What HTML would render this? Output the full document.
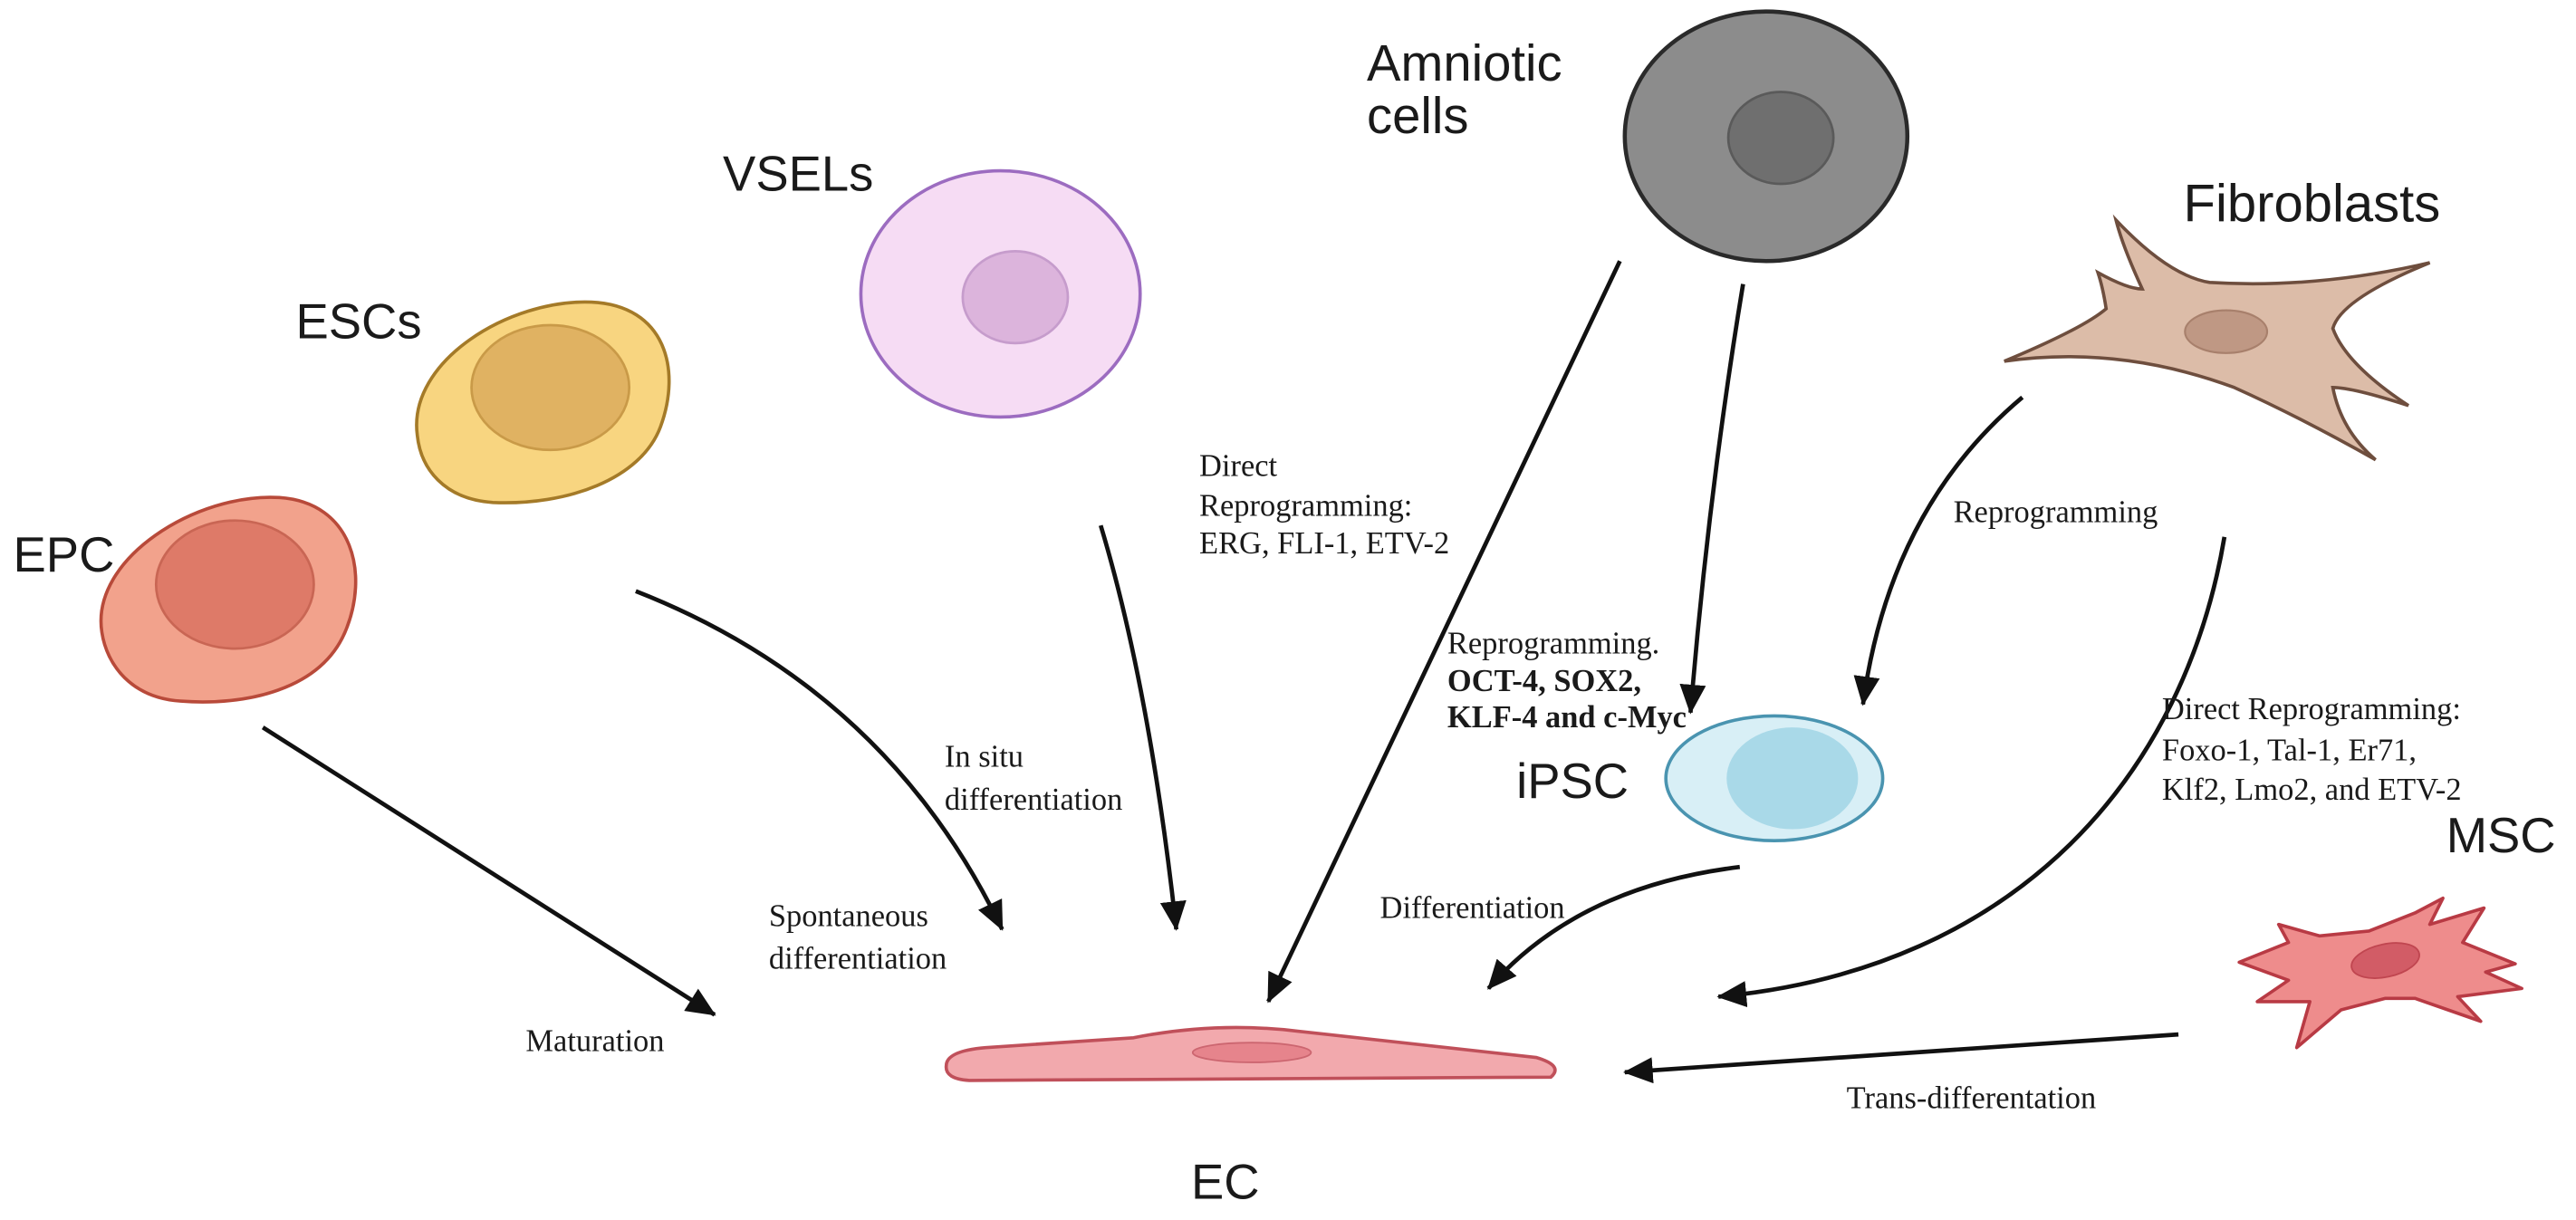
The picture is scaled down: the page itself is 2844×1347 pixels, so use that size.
<!DOCTYPE html>
<html><head><meta charset="utf-8"><style>
html,body{margin:0;padding:0;background:#fff;}
svg{display:block;}
.lab{font-family:"Liberation Sans",Arial,sans-serif;fill:#1a1a1a;}
.ser{font-family:"Liberation Serif","Times New Roman",serif;fill:#1a1a1a;font-size:19px;}
.ln{fill:none;stroke:#111;stroke-width:2.6;}
</style></head><body>
<svg width="2844" height="1347" viewBox="0 0 1568 743" preserveAspectRatio="none" xmlns="http://www.w3.org/2000/svg">
<defs>
<marker id="ah" markerUnits="userSpaceOnUse" markerWidth="20" markerHeight="16" refX="17" refY="8" orient="auto">
<path d="M0,0 L18,8 L0,16 Z" fill="#111"/>
</marker>
</defs>

<!-- Labels -->
<text class="lab" x="8" y="348" font-size="30">EPC</text>
<text class="lab" x="180" y="206" font-size="30">ESCs</text>
<text class="lab" x="440" y="116" font-size="30">VSELs</text>
<text class="lab" x="832" y="49" font-size="31">Amniotic</text>
<text class="lab" x="832" y="81" font-size="31">cells</text>
<text class="lab" x="1329" y="135" font-size="32">Fibroblasts</text>
<text class="lab" x="923" y="486" font-size="30">iPSC</text>
<text class="lab" x="1489" y="519" font-size="30">MSC</text>
<text class="lab" x="725" y="730" font-size="30">EC</text>

<!-- EPC -->
<path d="M62,385 C55,340 120,300 170,303 C215,306 225,350 210,385 C195,420 150,430 110,427 C80,425 65,405 62,385 Z" fill="#f2a28c" stroke="#b84a3a" stroke-width="2"/>
<ellipse cx="143" cy="356" rx="48" ry="39" fill="#de7a68" stroke="#c96654" stroke-width="1.5"/>
<!-- ESC -->
<path d="M254,265 C248,220 310,182 360,184 C405,186 415,225 402,260 C390,292 345,308 300,306 C270,304 256,285 254,265 Z" fill="#f8d580" stroke="#a47a28" stroke-width="2"/>
<ellipse cx="335" cy="236" rx="48" ry="38" fill="#e0b262" stroke="#c99a48" stroke-width="1.5"/>
<!-- VSEL -->
<ellipse cx="609" cy="179" rx="85" ry="75" fill="#f6dcf4" stroke="#9c6cc0" stroke-width="2"/>
<ellipse cx="618" cy="181" rx="32" ry="28" fill="#dcb4dc" stroke="#c69ccc" stroke-width="1.5"/>
<!-- Amniotic -->
<ellipse cx="1075" cy="83" rx="86" ry="76" fill="#8c8c8c" stroke="#2a2a2a" stroke-width="2.5"/>
<ellipse cx="1084" cy="84" rx="32" ry="28" fill="#6f6f6f" stroke="#5a5a5a" stroke-width="1.5"/>
<!-- Fibroblast -->
<path d="M1220,220 Q1268,200 1282,188 Q1280,175 1277,166 Q1295,176 1304,176 Q1292,150 1288,134 Q1320,168 1345,172 Q1410,176 1479,160 Q1425,182 1420,200 Q1428,222 1466,247 Q1432,236 1420,236 Q1425,262 1446,280 Q1400,254 1360,236 Q1290,210 1220,220 Z" fill="#dcbca8" stroke="#6e4e3e" stroke-width="2"/>
<ellipse cx="1355" cy="202" rx="25" ry="13" fill="#bf9884" stroke="#a8806c" stroke-width="1.2"/>
<!-- iPSC -->
<ellipse cx="1080" cy="474" rx="66" ry="38" fill="#d8eff6" stroke="#4a94b0" stroke-width="2"/>
<ellipse cx="1091" cy="474" rx="40" ry="31" fill="#a9d9e8"/>
<!-- MSC -->
<path d="M1363,586 L1393,574 L1387,563 L1412,570 L1442,567 L1470,556 L1487,547 L1479,563 L1512,553 L1499,574 L1531,587 L1513,592 L1535,602 L1496,607 L1510,622 L1470,608 L1452,608 L1425,615 L1398,638 L1406,610 L1374,610 L1393,597 Z" fill="#ee8c8c" stroke="#b83a44" stroke-width="2" stroke-linejoin="round"/>
<ellipse cx="1452" cy="585" rx="21" ry="10" transform="rotate(-12 1452 585)" fill="#d25c66" stroke="#c04650" stroke-width="1"/>
<!-- EC -->
<path d="M576,649 Q576,640 600,638 L690,632 Q740,622 790,628 L935,644 Q952,649 944,656 L590,658 Q575,657 576,649 Z" fill="#f2a9ad" stroke="#c0505a" stroke-width="2"/>
<ellipse cx="762" cy="641" rx="36" ry="6" fill="#e6848c" stroke="#cc6670" stroke-width="1"/>

<!-- Arrows -->
<path class="ln" d="M160,443 L435,618" marker-end="url(#ah)"/>
<path class="ln" d="M387,360 Q540,420 610,566" marker-end="url(#ah)"/>
<path class="ln" d="M670,320 Q700,420 716,566" marker-end="url(#ah)"/>
<path class="ln" d="M986,159 L772,610" marker-end="url(#ah)"/>
<path class="ln" d="M1061,173 Q1040,300 1029,434" marker-end="url(#ah)"/>
<path class="ln" d="M1231,242 Q1150,310 1134,429" marker-end="url(#ah)"/>
<path class="ln" d="M1354,327 C1330,470 1230,590 1046,607" marker-end="url(#ah)"/>
<path class="ln" d="M1059,528 Q960,540 906,602" marker-end="url(#ah)"/>
<path class="ln" d="M1326,630 L989,653" marker-end="url(#ah)"/>

<!-- Annotations -->
<text class="ser" x="320" y="640">Maturation</text>
<text class="ser" x="468" y="564">Spontaneous</text>
<text class="ser" x="468" y="590">differentiation</text>
<text class="ser" x="575" y="467">In situ</text>
<text class="ser" x="575" y="493">differentiation</text>
<text class="ser" x="730" y="290">Direct</text>
<text class="ser" x="730" y="314">Reprogramming:</text>
<text class="ser" x="730" y="337">ERG, FLI-1, ETV-2</text>
<text class="ser" x="881" y="398" font-size="17">Reprogramming.</text>
<text class="ser" x="881" y="421" font-size="17" font-weight="bold">OCT-4, SOX2,</text>
<text class="ser" x="881" y="443" font-size="17" font-weight="bold">KLF-4 and c-Myc</text>
<text class="ser" x="1189" y="318">Reprogramming</text>
<text class="ser" x="1316" y="438">Direct Reprogramming:</text>
<text class="ser" x="1316" y="463">Foxo-1, Tal-1,  Er71,</text>
<text class="ser" x="1316" y="487">Klf2, Lmo2, and ETV-2</text>
<text class="ser" x="840" y="559">Differentiation</text>
<text class="ser" x="1124" y="675">Trans-differentation</text>
</svg>
</body></html>
